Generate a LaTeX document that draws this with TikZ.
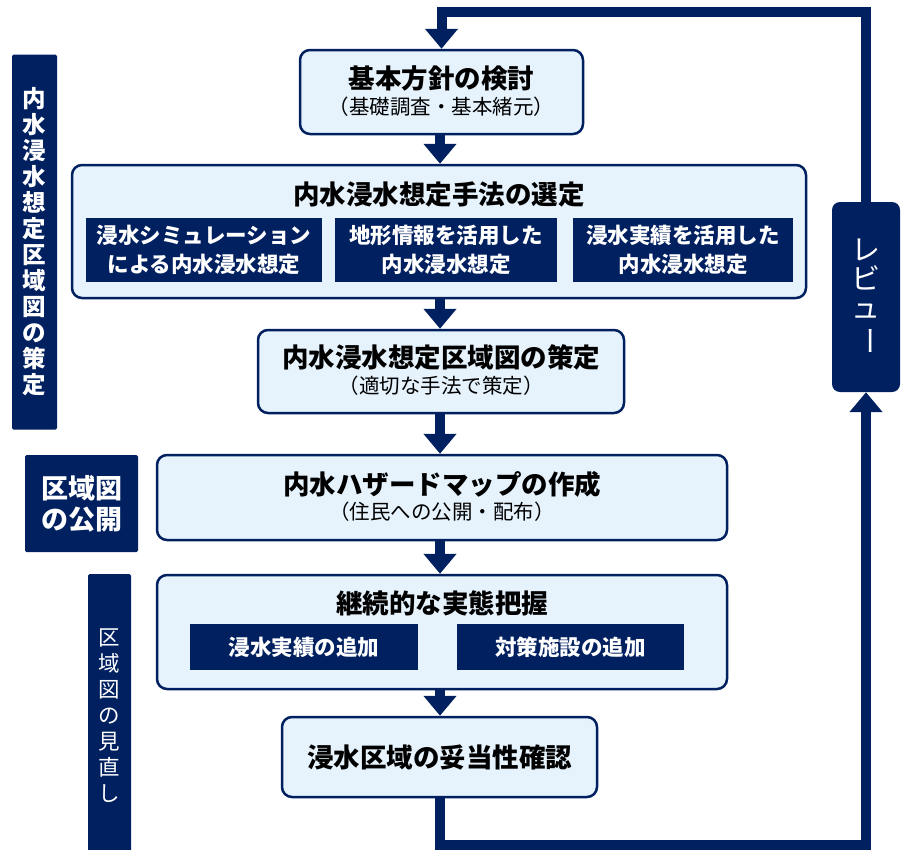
\documentclass[tikz,border=0pt]{standalone}
\usepackage{fontspec}
\newfontfamily\jp{Noto Sans CJK JP}
\usetikzlibrary{arrows.meta}
\definecolor{navy}{HTML}{002060}
\definecolor{pale}{HTML}{E6F3FD}
\begin{document}
\begin{tikzpicture}[x=1pt,y=-1pt,
  mainbox/.style={draw=navy,line width=2.5pt,fill=pale,rounded corners=10pt,inner sep=0pt},
  subbox/.style={fill=navy,text=white,inner sep=0pt,align=center,font=\jp\bfseries\fontsize{21.5}{29}\selectfont},
  titletext/.style={font=\jp\bfseries\fontsize{26.5}{30}\selectfont,text=black,inner sep=0pt},
  subtext/.style={font=\jp\fontsize{20.5}{24}\selectfont,text=black,inner sep=0pt},
  flow/.style={draw=navy,line width=10pt,-{Triangle[width=32pt,length=20pt]}},
  loopline/.style={draw=navy,line width=10pt,line join=miter,-{Triangle[width=32pt,length=20pt]}},
  side/.style={fill=navy,text=white,align=center,inner sep=0pt,rounded corners=1.5pt}]
\useasboundingbox (0,0) rectangle (905,849);

% main boxes
\node[mainbox,minimum width=283pt,minimum height=84pt] (b1) at (441.5,92) {};
\node[titletext] (t1) at (441.5,78) {基本方針の検討};
\node[subtext] (s1) at (441.5,107) {（基礎調査・基本緒元）};

\node[mainbox,minimum width=734pt,minimum height=133pt] (b2) at (439,231.5) {};
\node[titletext] (t2) at (439,194) {内水浸水想定手法の選定};
\node[subbox,minimum width=236pt,minimum height=64pt] (sa) at (204,250) {浸水シミュレーション\\による内水浸水想定};
\node[subbox,minimum width=222pt,minimum height=64pt] (sb) at (446,250) {地形情報を活用した\\内水浸水想定};
\node[subbox,minimum width=220pt,minimum height=64pt] (sc) at (683,250) {浸水実績を活用した\\内水浸水想定};

\node[mainbox,minimum width=366pt,minimum height=83pt] (b3) at (441,371.5) {};
\node[titletext] (t3) at (441,357) {内水浸水想定区域図の策定};
\node[subtext] (s3) at (441,386) {（適切な手法で策定）};

\node[mainbox,minimum width=570pt,minimum height=85pt] (b4) at (442,497.5) {};
\node[titletext] (t4) at (442,484) {内水ハザードマップの作成};
\node[subtext] (s4) at (442,512) {（住民への公開・配布）};

\node[mainbox,minimum width=570pt,minimum height=114pt] (b5) at (442,632) {};
\node[titletext] (t5) at (442,603) {継続的な実態把握};
\node[subbox,minimum width=228pt,minimum height=46pt] (sd) at (304,647) {浸水実績の追加};
\node[subbox,minimum width=227pt,minimum height=46pt] (se) at (570.5,647) {対策施設の追加};

\node[mainbox,minimum width=315pt,minimum height=80pt] (b6) at (439.5,757) {};
\node[titletext] (t6) at (439.5,757) {浸水区域の妥当性確認};

% review box
\node[fill=navy,text=white,rounded corners=8pt,inner sep=0pt,align=center,
  minimum width=68pt,minimum height=190pt,font=\jp\fontsize{29}{29}\selectfont] (rv) at (866,297)
  {レ\\ビ\\ュ\\\rotatebox[origin=c]{-90}{ー}};

% side labels
\node[side,minimum width=45pt,minimum height=375pt,font=\jp\bfseries\fontsize{23.5}{26}\selectfont] (L1) at (34.5,242)
  {内\\水\\浸\\水\\想\\定\\区\\域\\図\\の\\策\\定};
\node[side,minimum width=113pt,minimum height=97pt,font=\jp\bfseries\fontsize{27}{31}\selectfont] (L2) at (81.5,503.5)
  {区域図\\の公開};
\node[side,minimum width=43pt,minimum height=284pt,font=\jp\fontsize{21.5}{26}\selectfont] (L3) at (109.5,716)
  {区\\域\\図\\の\\見\\直\\し};

% flow arrows
\coordinate (ax) at (440,0);
\draw[flow] (ax |- b1.south) -- (ax |- b2.north);
\draw[flow] (ax |- b2.south) -- (ax |- b3.north);
\draw[flow] (ax |- b3.south) -- (ax |- b4.north);
\draw[flow] (ax |- b4.south) -- (ax |- b5.north);
\draw[flow] (ax |- b5.south) -- (ax |- b6.north);

% feedback loop
\coordinate (lb) at (440,845);
\coordinate (rb) at (866,845);
\coordinate (rt) at (866,12);
\coordinate (lt) at (441.5,12);
\draw[loopline] (ax |- b6.south) -- (lb) -- (rb) -- (rv.south);
\draw[loopline] (rv.north) -- (rt) -- (lt) -- (b1.north);
\end{tikzpicture}
\end{document}
